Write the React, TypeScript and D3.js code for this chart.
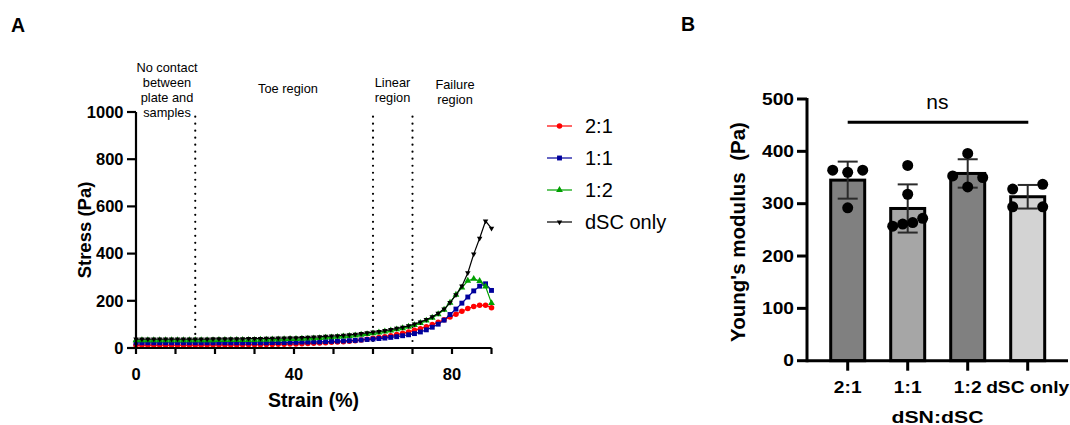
import React from "react";
import * as d3 from "d3";

// Panel A: stress-strain curves
const strain = [0, 1.5, 3, 4.5, 6, 7.5, 9, 10.5, 12, 13.5, 15, 16.5, 18, 19.5, 21, 22.5, 24, 25.5, 27, 28.5, 30, 31.5, 33, 34.5, 36, 37.5, 39, 40.5, 42, 43.5, 45, 46.5, 48, 49.5, 51, 52.5, 54, 55.5, 57, 58.5, 60, 61.5, 63, 64.5, 66, 67.5, 69, 70.5, 72, 73.5, 75, 76.5, 78, 79.5, 81, 82.5, 84, 85.5, 87, 88.5, 90];

const stress21 = [12, 12, 12, 12, 12, 12, 12, 12, 12, 12, 12, 12, 13, 13, 13, 13, 13, 13, 14, 14, 14,
  14, 15, 15, 16, 16, 17, 17, 18, 19, 20,
  21, 22, 24, 25, 27, 29, 31, 34, 37, 41,
  44, 48, 52, 57, 62, 68, 75,
  82, 90, 99, 109, 120, 131,
  143, 156, 167, 176, 181, 181, 171];

const stress11 = [22, 22, 22, 22, 22, 22, 22, 22, 22, 22, 22, 22, 22, 22, 22, 22, 22, 22, 22, 22, 22,
  22, 22, 23, 23, 23, 24, 24, 25, 25, 26,
  26, 27, 28, 29, 30, 31, 32, 34, 36, 38,
  40, 42, 45, 48, 52, 56, 61,
  68, 77, 88, 101, 118, 142,
  165, 190, 216, 242, 262, 272, 244];

const stress12 = [33, 33, 33, 33, 33, 33, 33, 33, 33, 33, 33, 33, 33, 33, 34, 34, 34, 34, 34, 34, 34,
  35, 35, 36, 36, 37, 38, 38, 39, 40, 41,
  42, 44, 45, 47, 49, 51, 53, 56, 59, 62,
  66, 70, 74, 79, 84, 90, 97,
  106, 116, 128, 143, 162, 192,
  226, 256, 285, 293, 284, 260, 190];

const stressDsc = [38, 38, 38, 38, 38, 38, 38, 38, 38, 38, 38, 38, 38, 39, 39, 39, 39, 39, 39, 40, 40,
  40, 41, 41, 42, 42, 43, 43, 44, 45, 46,
  47, 49, 50, 52, 54, 56, 58, 61, 64, 67,
  70, 74, 78, 83, 88, 94, 101,
  110, 120, 132, 147, 165, 192,
  225, 262, 318, 398, 465, 538, 507];

const seriesNames = ["2:1", "1:1", "1:2", "dSC only"];
const stressTicks = [0, 200, 400, 600, 800, 1000];
const strainTicks = [0, 10, 20, 30, 40, 50, 60, 70, 80, 90];
const strainLabels = [0, 40, 80];
const regionBounds = [15, 60, 70];

// Panel B: Young's modulus per ratio
const groups = ["2:1", "1:1", "1:2", "dSC only"];
const modulus21 = [364, 360, 364, 292];
const modulus11 = [373, 318, 257, 261, 264, 272];
const modulus12 = [396, 353, 350, 332];
const modulusDsc = [328, 337, 294, 294];
const modulusTicks = [0, 100, 200, 300, 400, 500];

const FONT = "Liberation Sans, Arial, Helvetica, sans-serif";

const x = d3.scaleLinear().domain([0, 90]).range([136, 491.5]);
const y = d3.scaleLinear().domain([0, 1000]).range([348, 112]);

const xB = d3.scalePoint<string>().domain(groups).range([847.7, 1027.7]);
const yB = d3.scaleLinear().domain([0, 500]).range([360.7, 99]);

const seriesStyle = [
  { data: stress21, color: "#ff0000", symbol: d3.symbolCircle, size: 24, rotate: 0 },
  { data: stress11, color: "#00009c", symbol: d3.symbolSquare, size: 24, rotate: 0 },
  { data: stress12, color: "#00a000", symbol: d3.symbolTriangle, size: 20, rotate: 0 },
  { data: stressDsc, color: "#000000", symbol: d3.symbolTriangle, size: 13, rotate: 180 },
];

const barFill = ["#808080", "#a6a6a6", "#808080", "#d3d3d3"];
const groupValues = [modulus21, modulus11, modulus12, modulusDsc];

// spread dots that sit at about the same height side by side
function layoutDots(values: number[], cx: number) {
  const order = values.map((_, i) => i).sort((a, b) => values[b] - values[a]);
  const bins: number[][] = [];
  order.forEach((i) => {
    const last = bins[bins.length - 1];
    if (last && Math.abs(yB(values[last[0]]) - yB(values[i])) < 10) last.push(i);
    else bins.push([i]);
  });
  const out: { x: number; y: number }[] = [];
  bins.forEach((bin) => {
    bin.sort((a, b) => a - b);
    bin.forEach((i, j) => {
      const off = bin.length === 1 ? 0 : -15 + (30 * j) / (bin.length - 1);
      out.push({ x: cx + off, y: yB(values[i]) });
    });
  });
  return out;
}

const PanelA = () => {
  const line = d3
    .line<number>()
    .x((_, i) => x(strain[i]))
    .y((d) => y(d));

  return (
    <g fontFamily={FONT}>
      <text x={11} y={31.5} fontSize={19.5} fontWeight="bold">A</text>

      {/* region labels */}
      <g fontSize={12.8} textAnchor="middle">
        <text x={167} y={72}>No contact</text>
        <text x={167} y={87}>between</text>
        <text x={167} y={102}>plate and</text>
        <text x={167} y={117}>samples</text>
        <text x={288} y={93}>Toe region</text>
        <text x={392.5} y={87}>Linear</text>
        <text x={392.5} y={102}>region</text>
        <text x={455} y={89}>Failure</text>
        <text x={455} y={104}>region</text>
      </g>

      {regionBounds.map((b) => (
        <line
          key={b}
          x1={x(b)}
          x2={x(b)}
          y1={y(0)}
          y2={y(1000)}
          stroke="#000"
          strokeWidth={2.2}
          strokeDasharray="0.01 7"
          strokeLinecap="round"
        />
      ))}

      {seriesStyle.map((s, k) => {
        const sym = d3.symbol().type(s.symbol).size(s.size)();
        return (
          <g key={k}>
            <path d={line(s.data) || ""} fill="none" stroke={s.color} strokeWidth={1.2} />
            {s.data.map((v, i) => (
              <path
                key={i}
                d={sym || ""}
                fill={s.color}
                transform={`translate(${x(strain[i])},${y(v)}) rotate(${s.rotate})`}
              />
            ))}
          </g>
        );
      })}

      {/* axes */}
      <line x1={136} x2={136} y1={y(1000)} y2={y(0) + 1} stroke="#000" strokeWidth={2.2} />
      <line x1={135} x2={x(90)} y1={y(0)} y2={y(0)} stroke="#000" strokeWidth={2.2} />
      {stressTicks.map((t) => (
        <g key={t}>
          <line x1={127} x2={136} y1={y(t)} y2={y(t)} stroke="#000" strokeWidth={2.2} />
          <text x={123.5} y={y(t) + 5.8} textAnchor="end" fontSize={16.5} fontWeight="bold">
            {t}
          </text>
        </g>
      ))}
      {strainTicks.map((t) => (
        <line key={t} x1={x(t)} x2={x(t)} y1={y(0)} y2={y(0) + 6} stroke="#000" strokeWidth={2.2} />
      ))}
      {strainLabels.map((t) => (
        <text key={t} x={x(t)} y={380} textAnchor="middle" fontSize={16.5} fontWeight="bold">
          {t}
        </text>
      ))}
      <text x={313.5} y={407} textAnchor="middle" fontSize={19.5} fontWeight="bold">
        Strain (%)
      </text>
      <text
        transform={`translate(91,${(y(0) + y(1000)) / 2}) rotate(-90)`}
        textAnchor="middle"
        fontSize={18.5}
        fontWeight="bold"
      >
        Stress (Pa)
      </text>

      {/* legend */}
      {seriesStyle.map((s, k) => {
        const ly = 126 + k * 32;
        const sym = d3.symbol().type(s.symbol).size(s.size)();
        return (
          <g key={k}>
            <line x1={547} x2={572} y1={ly} y2={ly} stroke={s.color} strokeWidth={1.2} />
            <path d={sym || ""} fill={s.color} transform={`translate(559.5,${ly}) rotate(${s.rotate})`} />
            <text x={585} y={ly + 7} fontSize={20}>
              {seriesNames[k]}
            </text>
          </g>
        );
      })}
    </g>
  );
};

const PanelB = () => {
  const x0 = 807;
  return (
    <g fontFamily={FONT}>
      <text x={681} y={30.5} fontSize={19.5} fontWeight="bold">B</text>

      {groups.map((g, k) => {
        const vals = groupValues[k];
        const m = d3.mean(vals) || 0;
        const sd = d3.deviation(vals) || 0;
        const cx = xB(g) || 0;
        const dots = layoutDots(vals, cx);
        return (
          <g key={g}>
            <rect
              x={cx - 17}
              y={yB(m)}
              width={34}
              height={yB(0) - yB(m)}
              fill={barFill[k]}
              stroke="#000"
              strokeWidth={3}
            />
            <g stroke="#2a2a2a" strokeWidth={2}>
              <line x1={cx} x2={cx} y1={yB(m - sd)} y2={yB(m + sd)} />
              <line x1={cx - 10} x2={cx + 10} y1={yB(m + sd)} y2={yB(m + sd)} />
              <line x1={cx - 10} x2={cx + 10} y1={yB(m - sd)} y2={yB(m - sd)} />
            </g>
            {dots.map((d, i) => (
              <circle key={i} cx={d.x} cy={d.y} r={5.5} fill="#000" />
            ))}
          </g>
        );
      })}

      {/* axes */}
      <line x1={x0} x2={x0} y1={yB(500) - 1} y2={yB(0) + 1.5} stroke="#000" strokeWidth={3} />
      <line x1={x0} x2={1068} y1={yB(0)} y2={yB(0)} stroke="#000" strokeWidth={3} />
      {modulusTicks.map((t) => (
        <g key={t}>
          <line x1={x0 - 10} x2={x0} y1={yB(t)} y2={yB(t)} stroke="#000" strokeWidth={3} />
          <text
            transform={`translate(${x0 - 13},${yB(t) + 5.6}) scale(1.2,1)`}
            textAnchor="end"
            fontSize={16}
            fontWeight="bold"
          >
            {t}
          </text>
        </g>
      ))}
      {groups.map((g) => (
        <g key={g}>
          <line x1={xB(g)} x2={xB(g)} y1={yB(0)} y2={yB(0) + 10} stroke="#000" strokeWidth={3} />
          <text
            transform={`translate(${xB(g)},393) scale(1.2,1)`}
            textAnchor="middle"
            fontSize={16}
            fontWeight="bold"
          >
            {g}
          </text>
        </g>
      ))}
      <text
        transform={`translate(937.5,422.5) scale(1.25,1)`}
        textAnchor="middle"
        fontSize={17}
        fontWeight="bold"
      >
        dSN:dSC
      </text>
      <text
        transform={`translate(745,${232}) rotate(-90)`}
        textAnchor="middle"
        fontSize={20.5}
        fontWeight="bold"
        style={{ whiteSpace: "pre" }}
      >
        Young's modulus  (Pa)
      </text>

      {/* significance */}
      <line x1={xB("2:1")} x2={(xB("dSC only") || 0) + 0.6} y1={122.3} y2={122.3} stroke="#000" strokeWidth={3} />
      <text x={937.3} y={109} textAnchor="middle" fontSize={21}>
        ns
      </text>
    </g>
  );
};

export default function App() {
  return (
    <svg
      width={1070}
      height={425}
      style={{ position: "absolute", left: 0, top: 0, background: "#fff" }}
    >
      <rect width={1070} height={425} fill="#fff" />
      <PanelA />
      <PanelB />
    </svg>
  );
}
